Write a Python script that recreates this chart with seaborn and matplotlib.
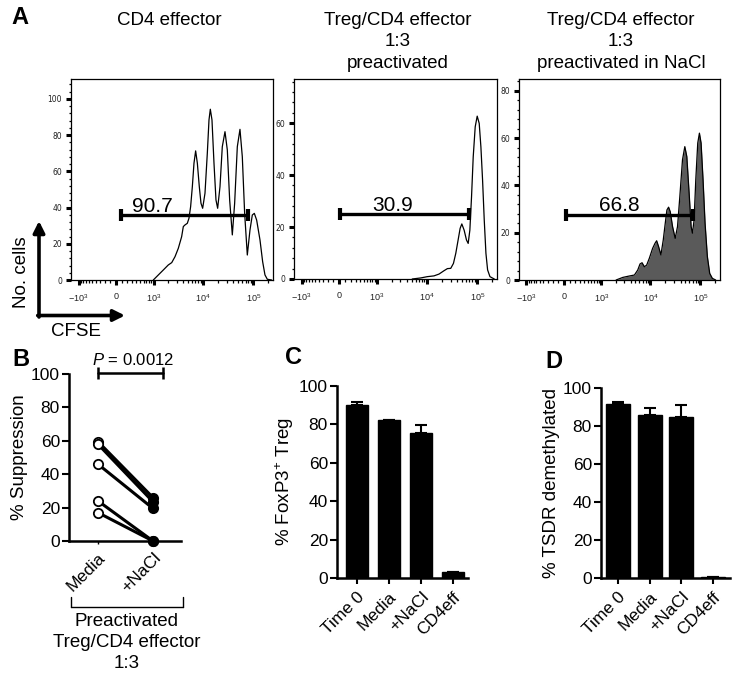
import numpy as np
import pandas as pd
import matplotlib
matplotlib.use('Agg')
import matplotlib.pyplot as plt
import seaborn as sns
from matplotlib.ticker import FixedLocator

sns.set_style('ticks')
plt.rcParams['font.family'] = ['Liberation Sans', 'DejaVu Sans']
plt.rcParams['mathtext.fontset'] = 'custom'
plt.rcParams['mathtext.rm'] = 'Liberation Sans'
plt.rcParams['mathtext.it'] = 'Liberation Sans:italic'
for key in ['text.color', 'axes.labelcolor', 'xtick.color', 'ytick.color', 'axes.edgecolor']:
    plt.rcParams[key] = 'black'

# ---- A: CFSE histograms
cd4_cfse = [987, 1260, 1590, 2010, 2360, 2750, 3200, 3730, 4030, 4350, 4840, 5230, 5640, 6100, 6580,
            7100, 7680, 8400, 9070, 9790, 10900, 12130, 13100, 13920, 15020, 16470, 18040, 19480, 21680,
            24100, 27270, 30340, 33780, 38150, 42450, 47970, 54200, 60300, 67130, 75850, 85730, 95400,
            104600, 116400, 135600, 153200, 170400, 189800, 231400]
cd4_count = [0, 2.8, 5.5, 8.3, 9.6, 12.9, 17.5, 23.9, 29.5, 30.4, 31.3, 34.1, 40.5, 51.5, 64.5,
             71.3, 64.5, 51.5, 42.4, 39.6, 47.9, 70, 88.4, 94.3, 88.4, 64.5, 44.2, 39.6, 51.5,
             73.6, 81.9, 71.8, 44.2, 24.9, 42.4, 73.6, 83.2, 68.1, 36.8, 13.8, 27.6, 35.9,
             36.8, 33.1, 22.1, 10.1, 2.8, 0.4, 0]

treg_cfse = [5150, 7550, 10250, 13900, 17500, 22000, 25650, 29860, 33780, 37600, 41780, 45820, 49480,
             55000, 61240, 66140, 71400, 77100, 83200, 91150, 99800, 109400, 118100, 127500, 137600,
             148600, 160400, 178500, 217600]
treg_count = [0, 0.4, 0.9, 1.2, 1.9, 3.2, 4.0, 4.1, 6.0, 9.9, 15, 19.5, 21.2,
              18.8, 15, 13.7, 18.8, 31.7, 47, 58.6, 62.7, 59.9, 50.9, 38.1, 22.7,
              9.9, 3.5, 0.9, 0]

nacl_cfse = [2040, 2790, 3790, 4770, 5560, 6190, 6790, 7550, 8400, 9500, 11060, 12320, 13300, 14560,
             16200, 18040, 19780, 21350, 23050, 24870, 27680, 31270, 34800, 38720, 43750, 48700, 53370,
             59400, 65080, 69170, 74700, 80670, 88350, 95400, 103000, 112800, 123700, 137600, 153200,
             173100, 201600]
nacl_count = [0, 1.1, 1.7, 2.1, 4.2, 6.8, 7.3, 5.6, 6.3, 9.2, 13.4, 15.5, 16.6, 14.1,
              10.6, 16.9, 24, 29.6, 30.8, 28.9, 22.6, 17.6, 22.6, 35.3, 50.8, 56.4, 52.2,
              36.7, 22.6, 19.8, 25.4, 42.3, 57.9, 62.1, 57.9, 42.3, 24, 9.9, 2.8,
              0.7, 0]

gate_values = ['90.7', '30.9', '66.8']
gate_ranges = [(80, 79400), (16, 69100), (33, 71400)]
gate_heights = [35.9, 24.9, 27.5]
hist_titles = [['CD4 effector'],
               ['Treg/CD4 effector', '1:3', 'preactivated'],
               ['Treg/CD4 effector', '1:3', 'preactivated in NaCl']]

# ---- B: % suppression, paired
supp_media = [59.5, 58, 46, 24, 17]
supp_nacl = [26, 23.5, 19.5, 0, 0]
b_labels = ['Media', '+NaCl']

# ---- C / D bars
bar_cats = ['Time 0', 'Media', '+NaCl', 'CD4eff']
foxp3 = [90, 82.5, 75.5, 3]
foxp3_err = [1.5, 0, 4, 0]
tsdr = [91.8, 86, 85, 0.5]
tsdr_err = [0.7, 3.5, 5.8, 0]

# ---------------------------------------------------------------
W = 370.0
def fwd(x):
    return np.arcsinh(np.asarray(x, dtype=float) / W)
def inv(u):
    return W * np.sinh(u)
XLIM = (-1434, 246200)

fig = plt.figure(figsize=(7.44, 6.78), dpi=100)

def px_box(l, r, t, b):
    return [l / 744, 1 - b / 678, (r - l) / 744, (b - t) / 678]

minor_x = [v for v in range(-900, 0, 100)] + [v for v in range(100, 1000, 100)] + \
          [v for v in range(2000, 10000, 1000)] + [v for v in range(20000, 100000, 10000)] + [200000]

def flow_panel(ax, cfse, count, ymax, yticks, gi, text_x, fill=False):
    ax.set_xscale('function', functions=(fwd, inv))
    if fill:
        ax.fill_between(cfse, count, color='#5a5a5a', lw=0)
    sns.lineplot(x=np.array(cfse), y=np.array(count), ax=ax, sort=False, estimator=None,
                 color='black', lw=0.9)
    for ln in ax.lines:
        ln.set_solid_joinstyle('round')
    ax.set_xlim(*XLIM)
    ax.set_ylim(0, ymax)
    ax.set_xlabel('')
    ax.set_ylabel('')
    g0, g1 = gate_ranges[gi]
    gy = gate_heights[gi]
    ax.plot([g0, g1], [gy, gy], color='black', lw=2.4, solid_capstyle='butt')
    ax.plot([g0, g1], [gy, gy], ls='none', marker='|', ms=8, mew=3, color='black')
    ax.annotate(gate_values[gi], xy=(text_x, gy), xytext=(0, 2.5), textcoords='offset points',
                ha='center', va='baseline', fontsize=15)
    ax.xaxis.set_major_locator(FixedLocator([-1000, 0, 1000, 10000, 100000]))
    ax.set_xticklabels([r'$-10^3$', '0', r'$10^3$', r'$10^4$', r'$10^5$'])
    ax.xaxis.set_minor_locator(FixedLocator(minor_x))
    ax.yaxis.set_major_locator(FixedLocator(yticks))
    ax.yaxis.set_minor_locator(FixedLocator(list(range(0, int(ymax), 4))))
    ax.tick_params(axis='both', which='major', length=3.5, width=2.2, labelsize=6.5, pad=3,
                   color='black', labelcolor='#222222')
    ax.tick_params(axis='both', which='minor', length=1.8, width=0.9, color='black')
    ax.tick_params(axis='x', which='major', pad=5)
    for lab in ax.get_yticklabels():
        lab.set_fontfamily('DejaVu Sans')
        lab.set_fontsize(5.5)
    for s in ax.spines.values():
        s.set_linewidth(0.9)
        s.set_color('black')

ax1 = fig.add_axes(px_box(71, 273, 79, 280))
flow_panel(ax1, cd4_cfse, cd4_count, 111, [0, 20, 40, 60, 80, 100], 0, 960)
ax2 = fig.add_axes(px_box(294, 497, 79, 279))
flow_panel(ax2, treg_cfse, treg_count, 77, [0, 20, 40, 60], 1, 2050)
ax3 = fig.add_axes(px_box(519, 720, 79, 280))
flow_panel(ax3, nacl_cfse, nacl_count, 85, [0, 20, 40, 60, 80], 2, 2390, fill=True)

# ---- B
axb = fig.add_axes(px_box(69, 181, 374, 541))
pairs = pd.DataFrame({
    'pair': list(range(len(supp_media))) * 2,
    'pos': [0] * len(supp_media) + [1] * len(supp_nacl),
    'value': supp_media + supp_nacl,
})
sns.lineplot(data=pairs, x='pos', y='value', units='pair', estimator=None, color='black',
             lw=2.2, ax=axb, legend=False)
for ln in axb.lines:
    ln.set_clip_on(False)
axb.scatter([0] * len(supp_media), supp_media, s=45, facecolor='white', edgecolor='black',
            linewidth=1.3, zorder=5, clip_on=False)
axb.scatter([1] * len(supp_nacl), supp_nacl, s=45, facecolor='black', edgecolor='black',
            linewidth=1.3, zorder=5, clip_on=False)
axb.set_xlim(-0.527, 1.51)
axb.set_ylim(0, 100)
axb.set_xticks([0, 1])
axb.set_xticklabels(b_labels, rotation=45, ha='right', rotation_mode='anchor', fontsize=12.5)
axb.set_yticks([0, 20, 40, 60, 80, 100])
axb.set_xlabel('')
axb.set_ylabel('% Suppression', fontsize=13.5, labelpad=2)
axb.tick_params(axis='y', length=5, width=1.5, labelsize=12.5, pad=1.5)
axb.tick_params(axis='x', length=2.5, width=1, pad=4)
sns.despine(ax=axb)
for s in ['left', 'bottom']:
    axb.spines[s].set_linewidth(1.8)
axb.plot([0, 1.18], [100.8, 100.8], color='black', lw=1.8, clip_on=False)
axb.plot([0, 1.18], [100.8, 100.8], ls='none', marker='|', ms=8, mew=1.8, color='black',
         clip_on=False)

# ---- C / D
def bar_panel(box, vals, errs, ylabel, width):
    ax = fig.add_axes(px_box(*box))
    sns.barplot(x=bar_cats, y=vals, color='black', width=width, ax=ax, errorbar=None,
                saturation=1, edgecolor='black')
    ax.errorbar(range(len(vals)), vals, yerr=[[0] * len(vals), errs], fmt='none',
                ecolor='black', elinewidth=1.5, capsize=4, capthick=1.5)
    ax.set_ylim(0, 100)
    ax.set_yticks([0, 20, 40, 60, 80, 100])
    ax.set_xticks(range(len(bar_cats)))
    ax.set_xticklabels(bar_cats, rotation=45, ha='right', rotation_mode='anchor', fontsize=12.5)
    ax.set_ylabel(ylabel, fontsize=13.5, labelpad=2)
    ax.tick_params(axis='y', length=5, width=1.5, labelsize=12.5, pad=1.5)
    ax.tick_params(axis='x', length=4, width=1.5, pad=4)
    sns.despine(ax=ax)
    for s in ['left', 'bottom']:
        ax.spines[s].set_linewidth(1.8)
    return ax

axc = bar_panel((337, 468, 386, 578), foxp3, foxp3_err, '% FoxP3$^{+}$ Treg', 0.68)
axc.set_xlim(-0.625, 3.47)
axd = bar_panel((601, 730, 388, 578), tsdr, tsdr_err, '% TSDR demethylated', 0.76)
axd.set_xlim(-0.536, 3.54)

# ---- overlay for labels, titles and the axis arrows
ov = fig.add_axes([0, 0, 1, 1], facecolor='none')
ov.set_xlim(0, 744)
ov.set_ylim(678, 0)
ov.axis('off')

for lab, (x, y) in zip('ABCD', [(20, 18), (21, 360), (293, 358), (554, 361)]):
    ov.text(x, y, lab, fontsize=17, fontweight='bold', ha='center', va='center')

title_x = [169.5, 398, 621]
for tx, lines in zip(title_x, hist_titles):
    for k, line in enumerate(lines):
        ov.text(tx, 25 + 21.5 * k, line, fontsize=13.5, ha='center', va='baseline')

ov.annotate('', xy=(39, 221), xytext=(39, 317),
            arrowprops=dict(arrowstyle='-|>', lw=2.6, color='black', mutation_scale=17,
                            shrinkA=0, shrinkB=0))
ov.annotate('', xy=(125, 315.5), xytext=(37.7, 315.5),
            arrowprops=dict(arrowstyle='-|>', lw=2.6, color='black', mutation_scale=17,
                            shrinkA=0, shrinkB=0))
ov.text(21, 272, 'No. cells', rotation=90, fontsize=13.5, ha='center', va='center')
ov.text(76, 332, 'CFSE', fontsize=13.5, ha='center', va='center')

ov.text(133, 365, r'$P$ = 0.0012', fontsize=12, ha='center', va='baseline')

ov.plot([71, 183], [606.5, 606.5], color='black', lw=1)
ov.plot([71, 71], [596.5, 606.5], color='black', lw=1)
ov.plot([183, 183], [596.5, 606.5], color='black', lw=1)
for k, line in enumerate(['Preactivated', 'Treg/CD4 effector', '1:3']):
    ov.text(127, 626 + 21 * k, line, fontsize=13.5, ha='center', va='baseline')

fig.savefig('out.png', dpi=100)
